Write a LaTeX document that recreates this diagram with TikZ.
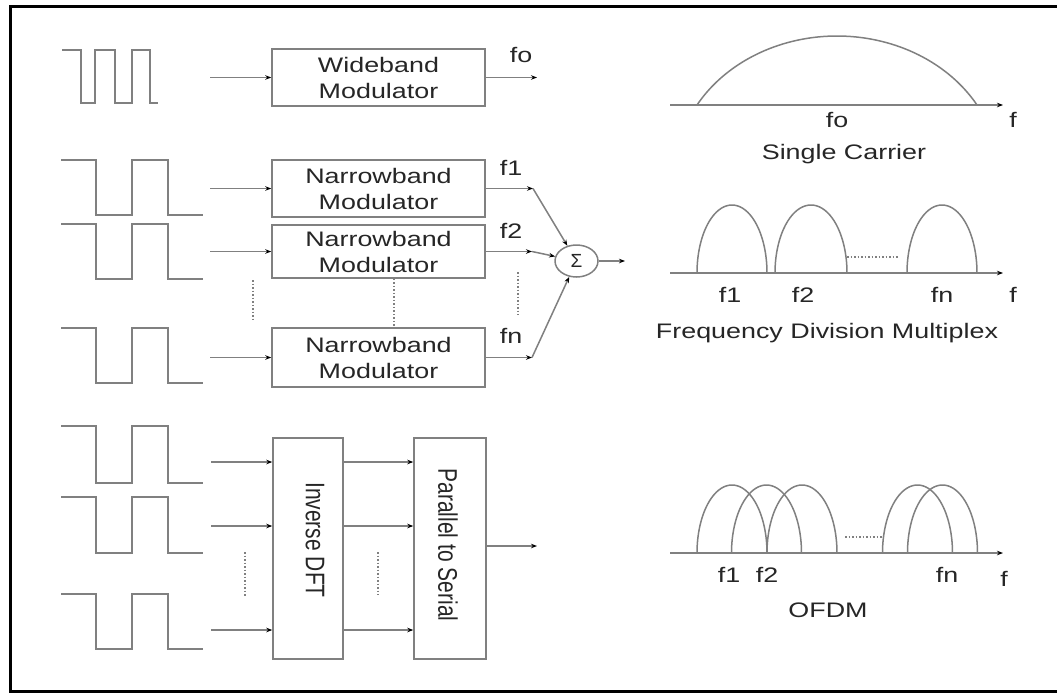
\documentclass[tikz,border=0pt]{standalone}
\usepackage{fontspec}
\usepackage{graphicx}
\usetikzlibrary{arrows.meta,shapes.geometric}
\newfontfamily\labfont[FakeStretch=1.28]{Liberation Sans}
\newfontfamily\labfontr{Liberation Sans}
\definecolor{ln}{gray}{0.5}
\definecolor{txt}{gray}{0.15}
\newcommand\pulsewave[2]{\draw[line] (61,#1) -- (96,#1) -- (96,#2) -- (132,#2) -- (132,#1) -- (168,#1) -- (168,#2) -- (203,#2);}
\newcommand\archw[4]{\draw[line] plot[domain=180:0,samples=41,smooth] ({#1+#2*cos(\x)},{#4-#3*sin(\x)});}
\begin{document}
\begin{tikzpicture}[x=1pt,y=-1pt,
  line/.style={draw=ln,line width=1.5pt},
  tip/.style={-{Stealth[length=6pt,width=4.5pt,color=black]}},
  dots/.style={draw=ln,line width=1.5pt,dash pattern=on 1.5pt off 2pt},
  box/.style={draw=ln,line width=1.5pt,minimum width=213pt,align=center,inner sep=0pt,
    font=\labfont\fontsize{21}{26}\selectfont,text=txt},
  tallbox/.style={draw=ln,line width=1.5pt,inner sep=0pt,minimum height=221pt},
  lab/.style={font=\labfont\fontsize{21}{26}\selectfont,text=txt,anchor=base,inner sep=0pt},
  rlab/.style={text=txt,inner sep=0pt},
]
\useasboundingbox (0,0) rectangle (1057,694);
\fill[white] (0,0) rectangle (1057,694);
\draw[line width=3pt,black] (1060,6) -- (10.5,6) -- (10.5,691) -- (1060,691);

% ---------- input pulse waveforms ----------
\draw[line] (62,50) -- (81,50) -- (81,103) -- (95,103) -- (95,50) -- (115,50) -- (115,103)
  -- (132,103) -- (132,50) -- (150,50) -- (150,103) -- (158,103);
\pulsewave{160}{215}
\pulsewave{224}{279}
\pulsewave{328}{383}
\pulsewave{426}{483}
\pulsewave{497}{553}
\pulsewave{594}{649}

% ---------- modulator boxes ----------
\node[box,minimum height=57pt] (wb) at (378.5,77.5) {Wideband\\Modulator};
\node[box,minimum height=57pt] (nb1) at (378.5,188.5) {Narrowband\\Modulator};
\node[box,minimum height=53pt] (nb2) at (378.5,251.5) {Narrowband\\Modulator};
\node[box,minimum height=59pt] (nbn) at (378.5,357.5) {Narrowband\\Modulator};

\coordinate (i0) at (210,77.5);
\coordinate (i1) at (210,188.5);
\coordinate (i2) at (210,251.5);
\coordinate (in) at (210,357.5);
\draw[line,tip] (i0) -- (wb.west);
\draw[line,tip] (i1) -- (nb1.west);
\draw[line,tip] (i2) -- (nb2.west);
\draw[line,tip] (in) -- (nbn.west);

\coordinate (o0) at (537,77.5);
\draw[line,tip] (wb.east) -- (o0);
\node[lab] (lfo) at (521,62) {fo};

% ---------- summation ----------
\node[draw=ln,line width=1.5pt,ellipse,minimum width=43pt,minimum height=32pt,inner sep=0pt,text=txt]
  (sum) at (576.5,261) {\labfontr\fontsize{19}{19}\selectfont Σ};
\coordinate (k1) at (533,188.5);
\coordinate (k2) at (532,251.5);
\coordinate (kn) at (532,357.5);
\draw[line,tip] (nb1.east) -- (k1);
\draw[line,tip] (nb2.east) -- (k2);
\draw[line,tip] (nbn.east) -- (kn);
\draw[line,tip] (k1) -- (sum);
\draw[line,tip] (k2) -- (sum);
\draw[line,tip] (kn) -- (sum);
\coordinate (so) at (625,261);
\draw[line,tip] (sum.east) -- (so);
\node[lab] (lf1) at (511,175) {f1};
\node[lab] (lf2) at (511,238) {f2};
\node[lab] (lfn) at (511,343) {fn};

\draw[dots] (253,280) -- (253,322);
\draw[dots] ([xshift=15.5pt]nb2.south) -- ([xshift=15.5pt]nbn.north);
\draw[dots] (518,272) -- (518,315);

% ---------- OFDM transmitter ----------
\node[tallbox,minimum width=70pt] (idft) at (308,548.5) {};
\node[tallbox,minimum width=72pt] (ps) at (450,548.5) {};
\node[rlab] (idftlab) at (315,540) {\scalebox{1.28}[1]{\rotatebox{-90}{\labfontr\fontsize{21}{26}\selectfont Inverse DFT}}};
\node[rlab] (pslab) at (448,545) {\scalebox{1.28}[1]{\rotatebox{-90}{\labfontr\fontsize{21}{26}\selectfont Parallel to Serial}}};

\coordinate (a1) at (211,462);
\coordinate (a2) at (211,526);
\coordinate (a3) at (211,630);
\draw[line,tip] (a1) -- (a1 -| idft.west);
\draw[line,tip] (a2) -- (a2 -| idft.west);
\draw[line,tip] (a3) -- (a3 -| idft.west);
\draw[line,tip] (idft.east |- a1) -- (ps.west |- a1);
\draw[line,tip] (idft.east |- a2) -- (ps.west |- a2);
\draw[line,tip] (idft.east |- a3) -- (ps.west |- a3);
\coordinate (pso) at (537,546);
\draw[line,tip] (ps.east |- pso) -- (pso);
\draw[dots] (245,552) -- (245,597);
\draw[dots] (378,552) -- (378,595);

% ---------- spectra: single carrier ----------
\draw[line] plot[domain=150:30,samples=60,smooth] ({837+161.66*cos(\x)},{174-138*sin(\x)});
\draw[line,tip] (670,105) -- (1003,105);
\node[lab] (sfo) at (837,127) {fo};
\node[lab] (sf) at (1013,127) {f};
\node[lab] (stitle) at (844,159) {Single Carrier};

% ---------- spectra: FDM ----------
\archw{732}{35}{68}{273}
\archw{811}{36}{68}{273}
\archw{942}{35}{68}{273}
\draw[dots] (847,257) -- (898,257);
\draw[line,tip] (670,273) -- (1003,273);
\node[lab] (ff1) at (730,302) {f1};
\node[lab] (ff2) at (803,302) {f2};
\node[lab] (ffn) at (942,302) {fn};
\node[lab] (ff) at (1013,302) {f};
\node[lab] (ftitle) at (827,338) {Frequency Division Multiplex};

% ---------- spectra: OFDM ----------
\archw{732}{35}{68}{553}
\archw{766.5}{35}{68}{553}
\archw{802}{35}{68}{553}
\archw{917.5}{35}{68}{553}
\archw{942.5}{35}{68}{553}
\draw[dots] (845,537) -- (883,537);
\draw[line,tip] (670,553) -- (1003,553);
\node[lab] (of1) at (729,582) {f1};
\node[lab] (of2) at (767,582) {f2};
\node[lab] (ofn) at (947,582) {fn};
\node[lab] (of) at (1004,586) {f};
\node[lab] (otitle) at (828,617) {OFDM};
\end{tikzpicture}
\end{document}
